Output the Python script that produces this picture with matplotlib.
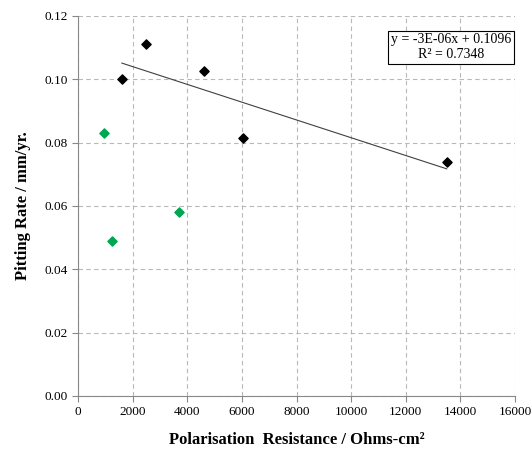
import numpy as np
import matplotlib
matplotlib.use("Agg")
import matplotlib.pyplot as plt

# ---------------------------------------------------------
# Data
# ---------------------------------------------------------
black_x = [1600, 2500, 4600, 6050, 13500]
black_y = [0.100, 0.111, 0.1025, 0.0815, 0.0738]
green_x = [950, 1250, 3700]
green_y = [0.083, 0.049, 0.058]

x_ticks = [0, 2000, 4000, 6000, 8000, 10000, 12000, 14000, 16000]
y_ticks = [0.00, 0.02, 0.04, 0.06, 0.08, 0.10, 0.12]

plt.rcParams["font.family"] = ["Liberation Serif", "DejaVu Serif"]

fig = plt.figure(figsize=(5.32, 4.57), dpi=100)
ax = fig.add_axes([0.147, 0.1335, 0.821, 0.8315])

# linear trend on the black series
slope, intercept = np.polyfit(black_x, black_y, 1)
fit_x = np.array([min(black_x), max(black_x)])
ax.plot(fit_x, slope * fit_x + intercept, color="#404040", lw=0.8, zorder=2)

ax.scatter(black_x, black_y, marker="D", s=22, color="black", zorder=3)
ax.scatter(green_x, green_y, marker="D", s=22, color="#00a651", zorder=3)

ax.set_xlim(0, 16000)
ax.set_ylim(0, 0.12)
ax.set_xticks(x_ticks)
ax.set_yticks(y_ticks)
ax.set_yticklabels([f"{v:.2f}" for v in y_ticks])
ax.tick_params(labelsize=9.5, color="#888888", length=4, width=0.8)

ax.grid(True, color="#b8b8b8", linestyle=(0, (4, 3)), lw=0.8)
ax.set_axisbelow(True)
for side in ["top", "right"]:
    ax.spines[side].set_visible(False)
for side in ["left", "bottom"]:
    ax.spines[side].set_color("#888888")
    ax.spines[side].set_linewidth(0.8)

ax.set_xlabel("Polarisation  Resistance / Ohms-cm²", fontsize=12,
              fontweight="bold", labelpad=10)
ax.set_ylabel("Pitting Rate / mm/yr.", fontsize=12, fontweight="bold", labelpad=10)

ax.text(0.854, 0.918, "y = -3E-06x + 0.1096\nR² = 0.7348", transform=ax.transAxes,
        ha="center", va="center", fontsize=10, multialignment="center",
        linespacing=1.15,
        bbox=dict(boxstyle="square,pad=0.2", fc="white", ec="black", lw=0.8))

fig.savefig("out.png", dpi=100)
